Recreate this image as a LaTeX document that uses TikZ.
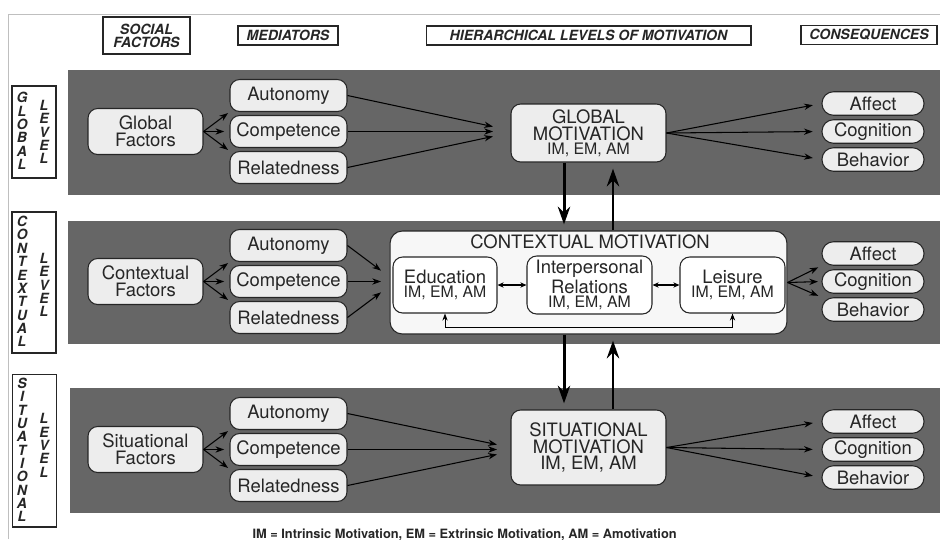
\documentclass[tikz,border=0pt]{standalone}
\usepackage{fontspec}
\setmainfont{TeX Gyre Heros}
\usetikzlibrary{arrows.meta}

\begin{document}
\begin{tikzpicture}[
  x=0.02cm, y=-0.02cm,
  >={Stealth[length=5pt,width=3.6pt]},
  line width=0.6pt,
  box/.style={draw=black!85, fill=black!7, text=black!85, rounded corners=5.5pt,
    align=center, inner sep=1pt, font=\fontsize{10.5}{9.5}\selectfont},
  fac/.style={box, minimum width=2.3cm, minimum height=0.92cm},
  med/.style={box, minimum width=2.34cm, minimum height=0.64cm},
  cons/.style={box, minimum width=2.04cm, minimum height=0.47cm, rounded corners=6.5pt},
  mot/.style={box, minimum width=3.1cm},
  sub/.style={box, fill=white, minimum height=1.12cm},
  head/.style={draw=black!85, fill=white, text=black!85, inner sep=0pt, align=center,
    minimum height=0.38cm, font=\fontsize{8}{7.4}\selectfont\bfseries\itshape},
  side/.style={draw=black!85, fill=white, minimum width=0.88cm},
  letters/.style={inner sep=0pt, align=center, text=black!85,
    font=\fontsize{8}{7.6}\selectfont\bfseries\itshape},
  band/.style={fill=black!60},
  vert/.style={line width=1.7pt, -{Stealth[length=10pt,width=7pt]}, shorten >=3.5pt},
  small/.style={font=\fontsize{8}{8}\selectfont},
]
\useasboundingbox (0,0) rectangle (940,539);

% page edge
\draw[black!25, line width=0.4pt] (8,539) -- (8,14) -- (940,14);

% bands
\fill[band] (68,70) rectangle (940,195);
\fill[band] (68,221) rectangle (940,344);
\fill[band] (70,388) rectangle (940,513);

% column headers
\node[head, minimum width=1.74cm, minimum height=0.74cm] (hsoc) at (146.5,35.5) {SOCIAL\\FACTORS};
\node[head, minimum width=2cm] (hmed) at (288,35.5) {MEDIATORS};
\node[head, minimum width=6.5cm] (hhier) at (588.5,35.5) {HIERARCHICAL LEVELS OF MOTIVATION};
\node[head, minimum width=2.72cm] (hcons) at (869,35) {CONSEQUENCES};

% level labels
\node[side, minimum height=1.84cm] (gside) at (34,132) {};
\node[letters] (gword) at (22,131) {G\\L\\O\\B\\A\\L};
\node[letters] (glev) at (44,132) {L\\E\\V\\E\\L};
\node[side, minimum height=2.82cm] (cside) at (34,282.5) {};
\node[letters] (cword) at (22,281.5) {C\\O\\N\\T\\E\\X\\T\\U\\A\\L};
\node[letters] (clev) at (44,285) {L\\E\\V\\E\\L};
\node[side, minimum height=3.06cm] (sside) at (34.5,450.5) {};
\node[letters] (sword) at (22,450) {S\\I\\T\\U\\A\\T\\I\\O\\N\\A\\L};
\node[letters] (slev) at (44,445.5) {L\\E\\V\\E\\L};

% motivation boxes
\node[mot, minimum height=1.16cm] (gmot) at (588.5,133)
  {GLOBAL\\MOTIVATION\\[-1.5pt]{\small IM, EM, AM}};
\node[box, fill=black!3, rounded corners=7pt, minimum width=7.94cm, minimum height=2.06cm] (cmot) at (588.5,282.5) {};
\node[text=black!85, font=\fontsize{10.5}{10}\selectfont] (ctitle) at (590,242) {CONTEXTUAL MOTIVATION};
\node[sub, minimum width=2.08cm] (cedu) at (445,285) {Education\\[-1.5pt]{\small IM, EM, AM}};
\node[sub, minimum width=2.5cm, minimum height=1.16cm] (cint) at (589.5,285)
  {Interpersonal\\Relations\\[-1.5pt]{\small IM, EM, AM}};
\node[sub, minimum width=2.1cm] (clei) at (732.5,285) {Leisure\\[-1.5pt]{\small IM, EM, AM}};
\node[mot, minimum height=1.5cm] (smot) at (588.5,447.5) {SITUATIONAL\\MOTIVATION\\IM, EM, AM};

% convergence points
\coordinate (gjoin) at (493,131.5);
\coordinate (cjoin) at (381,281.5);
\coordinate (sjoin) at (497,449.5);
\coordinate (cfb) at (0,327);

% the three levels
\foreach \lvl/\yc/\lname/\dy in {g/131.5/Global/2.8pt, c/281.5/Contextual/6.2pt, s/449.5/Situational/2.8pt} {
  \node[fac] (\lvl fac) at (145.5,\yc) {\lname\\Factors};
  \node[med] (\lvl aut) at (288.5,\yc-36) {Autonomy};
  \node[med] (\lvl com) at (288.5,\yc) {Competence};
  \node[med] (\lvl rel) at (288.5,\yc+36) {Relatedness};
  \node[cons] (\lvl aff) at (873,\yc-28) {Affect};
  \node[cons] (\lvl cog) at (873,\yc) {Cognition};
  \node[cons] (\lvl beh) at (873,\yc+28) {Behavior};
  \draw[->, shorten >=1pt] (\lvl fac.east) -- (\lvl aut.south west);
  \draw[->, shorten >=3pt] (\lvl fac.east) -- (\lvl com.west);
  \draw[->, shorten >=1pt] (\lvl fac.east) -- (\lvl rel.north west);
  \draw[->] (\lvl aut.east) -- ([yshift=\dy]\lvl join);
  \draw[->] (\lvl com.east) -- (\lvl join);
  \draw[->] (\lvl rel.east) -- ([yshift=-\dy]\lvl join);
}

% consequences
\foreach \lvl in {g,s} {
  \draw[->, shorten >=5pt] (\lvl mot.east) -- (\lvl aff.west);
  \draw[->, shorten >=5pt] (\lvl mot.east) -- (\lvl cog.west);
  \draw[->, shorten >=5pt] (\lvl mot.east) -- (\lvl beh.west);
}
\draw[->, shorten >=2pt] (cmot.east) -- (caff.south west);
\draw[->, shorten >=2pt] (cmot.east) -- (ccog.west);
\draw[->, shorten >=2pt] (cmot.east) -- (cbeh.north west);

% inside contextual motivation
\draw[<->, >={Stealth[length=3.5pt,width=3pt]}] (cedu) -- (cint);
\draw[<->, >={Stealth[length=3.5pt,width=3pt]}] (cint) -- (clei);
\draw[<->, >={Stealth[length=4pt,width=3pt]}, line width=0.5pt] (cedu.south) |- (cfb -| clei.south) -- (clei.south);

% between levels
\draw[vert] ([xshift=-0.49cm]gmot.south) -- ([xshift=-0.49cm]cmot.north);
\draw[vert] ([xshift=0.49cm]cmot.north) -- ([xshift=0.49cm]gmot.south);
\draw[vert] ([xshift=-0.49cm]cmot.south) -- ([xshift=-0.49cm]smot.north);
\draw[vert] ([xshift=0.49cm]smot.north) -- ([xshift=0.49cm]cmot.south);

\node[anchor=base west, inner sep=0pt, text=black!85, font=\fontsize{7.3}{8}\selectfont\bfseries] (note) at (252,538)
  {IM = Intrinsic Motivation, EM = Extrinsic Motivation, AM = Amotivation};

\end{tikzpicture}
\end{document}
